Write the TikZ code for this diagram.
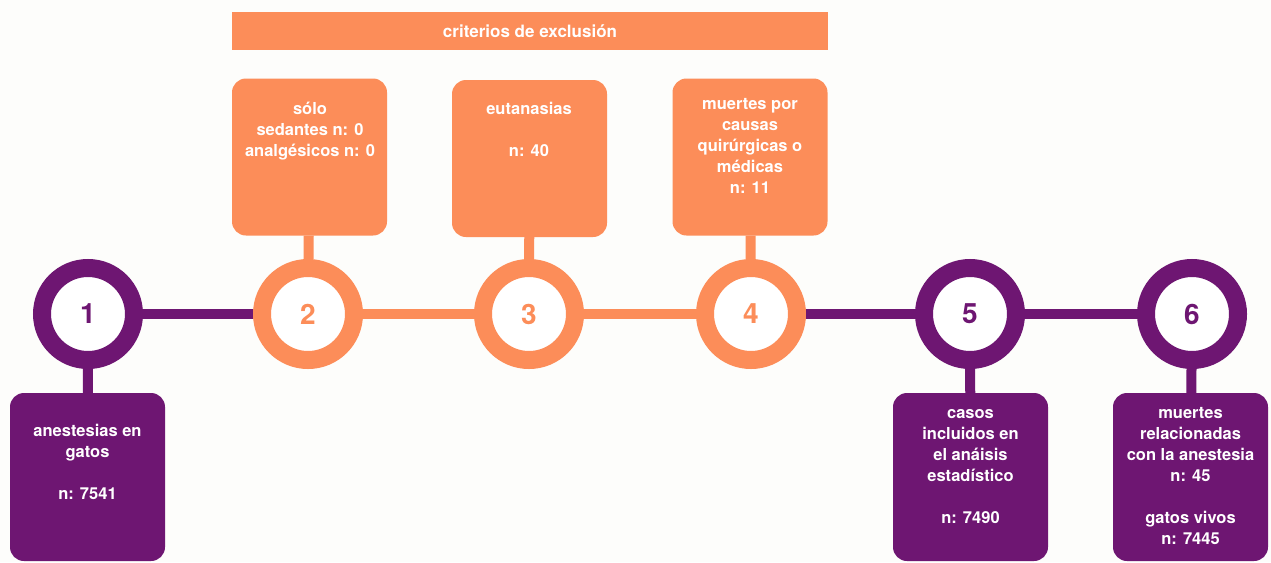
\documentclass[tikz,border=0pt]{standalone}
\usepackage{fontspec}
\setmainfont{TeX Gyre Heros}
\definecolor{pur}{RGB}{110,22,114}
\definecolor{ora}{RGB}{252,141,89}
\definecolor{bg}{RGB}{253,253,251}
\begin{document}
\begin{tikzpicture}[x=1pt,y=-1pt,
  ring/.style={circle,draw=#1,line width=18pt,fill=white,minimum size=92pt,inner sep=0pt,
    text=#1,font=\fontsize{28}{28}\selectfont\bfseries},
  link/.style={draw=#1,line width=10pt},
  box/.style={fill=#1,rounded corners=14pt,minimum width=155pt,inner sep=0pt},
  btext/.style={anchor=north,align=center,text=white,inner sep=0pt,
    font=\fontsize{16.5}{21}\selectfont\bfseries},
]
\fill[bg] (0,0) rectangle (1271,562);
\useasboundingbox (0,0) rectangle (1271,562);

% circles
\node[ring=pur] (c1) at (88,314) {1};
\node[ring=ora] (c2) at (308,314) {2};
\node[ring=ora] (c3) at (529,314) {3};
\node[ring=ora] (c4) at (751,314) {4};
\node[ring=pur] (c5) at (970,314) {5};
\node[ring=pur] (c6) at (1192,314) {6};

% connectors
\draw[link=pur] (c1) -- (c2);
\draw[link=ora] (c2) -- (c3);
\draw[link=ora] (c3) -- (c4);
\draw[link=pur] (c4) -- (c5);
\draw[link=pur] (c5) -- (c6);

% header bar
\node[fill=ora,minimum width=596pt,minimum height=38pt,inner sep=0pt,text=white,
  font=\fontsize{17}{17}\selectfont\bfseries] (hdr) at (530,31) {criterios de exclusión};

% top boxes
\node[box=ora,minimum height=157pt] (bA) at (309.5,157) {};
\node[box=ora,minimum height=157pt] (bB) at (529.5,158.5) {};
\node[box=ora,minimum height=157pt] (bC) at (750,157) {};
\node[btext] at (310,100) {\strut sólo\\sedantes n: 0\\analgésicos n: 0};
\node[btext] at (529,100) {\strut eutanasias\\[21pt]n: 40};
\node[btext] at (750,95) {\strut muertes por\\causas\\quirúrgicas o\\médicas\\n: 11};

% bottom boxes
\node[box=pur,minimum height=168pt] (b1) at (87.5,477) {};
\node[box=pur,minimum height=168pt] (b5) at (970.5,477) {};
\node[box=pur,minimum height=168pt] (b6) at (1190.5,477) {};
\node[btext] at (87.5,422) {\strut anestesias en\\gatos\\[21pt]n: 7541};
\node[btext] at (970.5,404) {\strut casos\\incluidos en\\el anáisis\\estadístico\\[21pt]n: 7490};
\node[btext] at (1190.5,404) {\strut muertes\\relacionadas\\con la anestesia\\n: 45\\[21pt]gatos vivos\\n: 7445};

% stems
\draw[link=ora] (bA) -- (c2);
\draw[link=ora] (bB) -- (c3);
\draw[link=ora] (bC) -- (c4);
\draw[link=pur] (c1) -- (b1);
\draw[link=pur] (c5) -- (b5);
\draw[link=pur] (c6) -- (b6);
\end{tikzpicture}
\end{document}
